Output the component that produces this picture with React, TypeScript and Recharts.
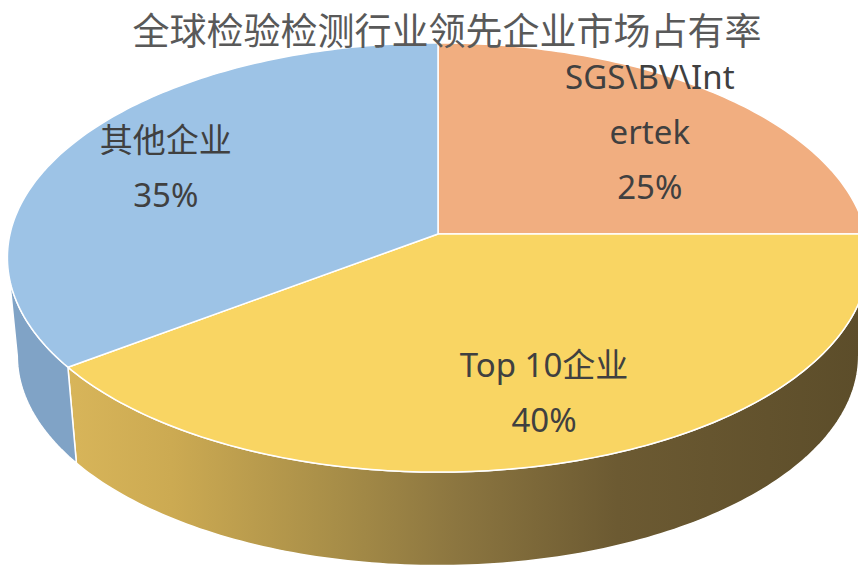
import React from 'react';
import { PieChart, Pie, Cell } from 'recharts';

const chartTitle = '全球检验检测行业领先企业市场占有率';
const categories = ['SGS\\BV\\Intertek', 'Top 10企业', '其他企业'];
const shares = [25, 40, 35];

const TOP_COLORS = ['#F1AE80', '#F9D563', '#9DC3E6'];
const SIDE_COLORS = ['#C98B5E', 'url(#sideGold)', '#80A3C6'];

const data = categories.map((name, i) => ({ name, value: shares[i] }));

// pseudo-3D projection constants
const RX = 428;
const RY = 212;
const PERSP = 0.1096;
const DEPTH = 99;
const BOTTOM_SCALE = 0.977;
const LABEL_FX = 0.74;
const LABEL_FY = 0.725;
const LINE_GAP = 55;
const FONT = "'Noto Sans', 'Noto Sans CJK SC', sans-serif";

function project(cx: number, cy: number, deg: number, fx: number, fy: number = fx) {
  const r = (deg * Math.PI) / 180;
  const u = Math.cos(r);
  const v = Math.sin(r);
  const kx = 1 / (1 + PERSP * v * fx);
  const ky = 1 / (1 + PERSP * v * fy);
  return [cx + RX * u * fx * kx, cy - RY * v * fy * ky];
}

function bottomPoint(cx: number, cy: number, deg: number) {
  const [x, y] = project(cx, cy, deg, 1);
  return [cx + BOTTOM_SCALE * (x - cx), cy + DEPTH + BOTTOM_SCALE * (y - cy)];
}

function arc(cx: number, cy: number, a0: number, a1: number, bottom: boolean) {
  const steps = Math.max(2, Math.ceil(Math.abs(a1 - a0)));
  const pts: number[][] = [];
  for (let i = 0; i <= steps; i++) {
    const d = a0 + ((a1 - a0) * i) / steps;
    pts.push(bottom ? bottomPoint(cx, cy, d) : project(cx, cy, d, 1));
  }
  return pts;
}

const toPath = (pts: number[][]) => pts.map((p) => `${p[0].toFixed(2)},${p[1].toFixed(2)}`).join(' L ');

const renderSlice = (props: any) => {
  const { cx, cy, startAngle, endAngle, index } = props;
  const hiA = Math.max(startAngle, endAngle);
  const loA = Math.min(startAngle, endAngle);
  const delta = (Math.asin(PERSP) * 180) / Math.PI;
  const sides: React.ReactNode[] = [];
  [-360, 0, 360].forEach((off) => {
    const hi = Math.min(hiA, -delta + off);
    const lo = Math.max(loA, -180 + delta + off);
    if (hi > lo) {
      const top = arc(cx, cy, hi, lo, false);
      const bot = arc(cx, cy, lo, hi, true);
      sides.push(
        <path
          key={`s${off}`}
          d={`M ${toPath(top)} L ${toPath(bot)} Z`}
          fill={SIDE_COLORS[index]}
          stroke="#FFFFFF"
          strokeWidth={1.5}
          strokeLinejoin="round"
        />
      );
    }
  });
  const topPts = arc(cx, cy, startAngle, endAngle, false);
  return (
    <g>
      {sides}
      <path
        d={`M ${cx},${cy} L ${toPath(topPts)} Z`}
        fill={TOP_COLORS[index]}
        stroke="#FFFFFF"
        strokeWidth={1.5}
        strokeLinejoin="round"
      />
    </g>
  );
};

function wrapName(name: string) {
  const max = 10;
  if (name.length <= 12) return [name];
  const out: string[] = [];
  for (let i = 0; i < name.length; i += max) out.push(name.slice(i, i + max));
  return out;
}

const renderLabel = (props: any) => {
  const { cx, cy, midAngle, percent, payload, index } = props;
  const [x, y] = project(cx, cy, midAngle, LABEL_FX, LABEL_FY);
  const lines = [...wrapName(payload.name), `${Math.round(percent * 100)}%`];
  return (
    <g key={`lbl${index}`}>
      {lines.map((l, i) => (
        <text
          key={i}
          x={x}
          y={y + (i - (lines.length - 1) / 2) * LINE_GAP}
          textAnchor="middle"
          dominantBaseline="central"
          fill="#404040"
          fontSize={33}
          fontFamily={FONT}
        >
          {l}
        </text>
      ))}
    </g>
  );
};

export default function App() {
  return (
    <div style={{ position: 'absolute', left: 0, top: 0, width: 858, height: 570, background: '#FFFFFF' }}>
      <svg width={0} height={0} style={{ position: 'absolute' }}>
        <defs>
          <linearGradient id="sideGold" gradientUnits="userSpaceOnUse" x1={50} y1={0} x2={860} y2={0}>
            <stop offset="0" stopColor="#DAB75B" />
            <stop offset="0.15" stopColor="#CCAA52" />
            <stop offset="0.35" stopColor="#A88E48" />
            <stop offset="0.5" stopColor="#8C7640" />
            <stop offset="0.7" stopColor="#6C5A32" />
            <stop offset="1" stopColor="#5C4D2A" />
          </linearGradient>
        </defs>
      </svg>
      <PieChart width={858} height={570} margin={{ top: 0, right: 0, bottom: 0, left: 0 }}>
        <Pie
          data={data}
          dataKey="value"
          nameKey="name"
          cx={438}
          cy={234}
          outerRadius={RY}
          startAngle={90}
          endAngle={-270}
          stroke="none"
          isAnimationActive={false}
          shape={renderSlice}
          label={renderLabel}
          labelLine={false}
        >
          {data.map((d, i) => (
            <Cell key={d.name} fill={TOP_COLORS[i]} />
          ))}
        </Pie>
      </PieChart>
      <div
        style={{
          position: 'absolute',
          left: 0,
          top: 11,
          width: 894,
          textAlign: 'center',
          fontSize: 37,
          lineHeight: '37px',
          color: '#595959',
          fontFamily: "'Noto Sans CJK SC', sans-serif",
          whiteSpace: 'nowrap',
        }}
      >
        {chartTitle}
      </div>
    </div>
  );
}
